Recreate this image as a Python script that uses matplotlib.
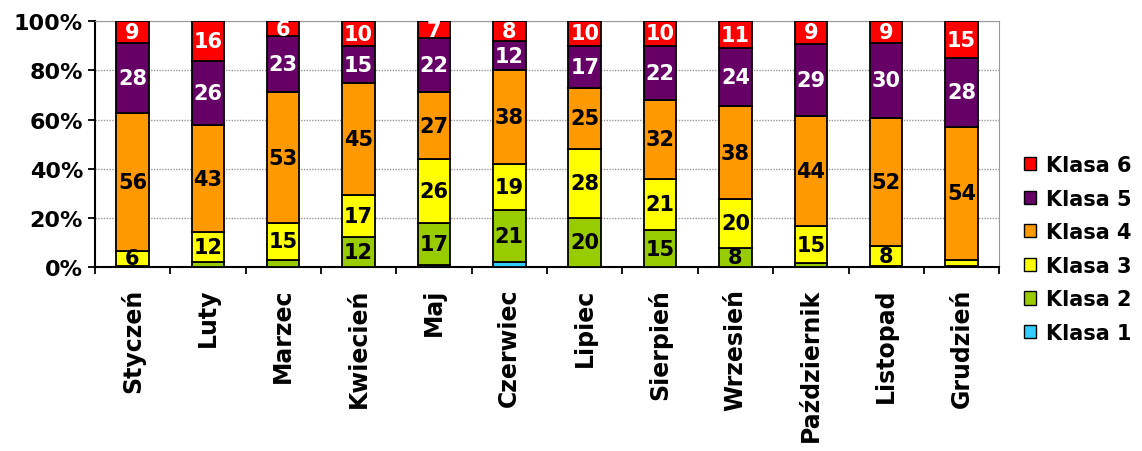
import matplotlib.pyplot as plt
import numpy as np
from matplotlib.patches import Patch
from matplotlib.ticker import FuncFormatter

plt.rcParams["font.family"] = ["DejaVu Sans"]
plt.rcParams["font.weight"] = "bold"

months = ["Styczeń", "Luty", "Marzec", "Kwiecień", "Maj", "Czerwiec",
          "Lipiec", "Sierpień", "Wrzesień", "Październik", "Listopad", "Grudzień"]
classes = ["Klasa 1", "Klasa 2", "Klasa 3", "Klasa 4", "Klasa 5", "Klasa 6"]

klasa1 = [0, 0, 0, 0, 1, 2, 0, 0, 0, 0, 0, 0]
klasa2 = [0.5, 2, 3, 12, 17, 21, 20, 15, 8, 1.5, 0.5, 0.5]
klasa3 = [6, 12, 15, 17, 26, 19, 28, 21, 20, 15, 8, 2.5]
klasa4 = [56, 43, 53, 45, 27, 38, 25, 32, 38, 44, 52, 54]
klasa5 = [28, 26, 23, 15, 22, 12, 17, 22, 24, 29, 30, 28]
klasa6 = [9, 16, 6, 10, 7, 8, 10, 10, 11, 9, 9, 15]

colors = ["#33CCFF", "#99CC00", "#FFFF00", "#FF9900", "#660066", "#FF0000"]
text_colors = ["black", "black", "black", "black", "white", "white"]

series = np.array([klasa1, klasa2, klasa3, klasa4, klasa5, klasa6], dtype=float)
totals = series.sum(axis=0)
shares = series / totals * 100

fig = plt.figure(figsize=(11.42, 4.52), dpi=100)
ax = fig.add_axes([0.083, 0.407, 0.792, 0.544])

x = np.arange(len(months))
bottom = np.zeros(len(months))
for vals, pct, col, tcol in zip(series, shares, colors, text_colors):
    ax.bar(x, pct, 0.43, bottom=bottom, color=col, edgecolor="black",
           linewidth=1.3, zorder=3)
    for xi, v, p, b in zip(x, vals, pct, bottom):
        if v >= 5:
            ax.text(xi, b + p / 2, f"{v:.0f}", ha="center", va="center",
                    color=tcol, fontsize=15, fontweight="bold", zorder=4)
    bottom += pct

ax.set_xlim(-0.5, len(months) - 0.5)
ax.set_ylim(0, 100)
ax.set_yticks(np.arange(0, 101, 20))
ax.yaxis.set_major_formatter(FuncFormatter(lambda v, _: f"{v:.0f}%"))
ax.tick_params(axis="y", labelsize=16, length=5, width=1.3, direction="out")
ax.set_xticks(x)
ax.set_xticklabels(months, rotation=90, fontsize=17, fontweight="bold")
ax.set_xticks(np.arange(-0.5, len(months)), minor=True)
ax.tick_params(axis="x", which="major", length=0, pad=15)
ax.tick_params(axis="x", which="minor", length=5, width=1.3, direction="out")
for lbl in ax.get_yticklabels():
    lbl.set_fontweight("bold")

ax.grid(axis="y", color="#999999", linestyle=(0, (1, 1)), linewidth=1, zorder=0)
ax.spines["left"].set_linewidth(1.5)
ax.spines["bottom"].set_linewidth(1.5)
ax.spines["top"].set_color("#999999")
ax.spines["right"].set_color("#999999")

handles = [Patch(facecolor=c, edgecolor="black", label=l)
           for c, l in zip(colors, classes)][::-1]
fig.legend(handles=handles, loc="center left", bbox_to_anchor=(0.88, 0.447),
           frameon=False, prop={"weight": "bold", "size": 15},
           handlelength=0.6, handleheight=0.6, handletextpad=0.45,
           labelspacing=0.65)

fig.savefig("out.png", dpi=100)
